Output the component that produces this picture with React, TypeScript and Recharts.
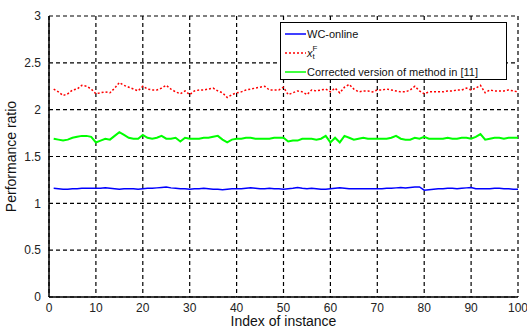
import { LineChart, Line, XAxis, YAxis, CartesianGrid } from 'recharts';

const instances = Array.from({ length: 100 }, (_, i) => i + 1);

const wcOnline = [
  1.16, 1.155, 1.15, 1.15, 1.155, 1.155, 1.16, 1.16, 1.16, 1.16,
  1.16, 1.165, 1.16, 1.155, 1.15, 1.155, 1.155, 1.155, 1.15, 1.155,
  1.16, 1.16, 1.165, 1.17, 1.175, 1.165, 1.16, 1.155, 1.155, 1.15,
  1.155, 1.155, 1.16, 1.155, 1.15, 1.15, 1.145, 1.15, 1.155, 1.155,
  1.155, 1.16, 1.165, 1.16, 1.155, 1.155, 1.16, 1.155, 1.155, 1.15,
  1.155, 1.16, 1.17, 1.16, 1.155, 1.16, 1.155, 1.15, 1.15, 1.155,
  1.16, 1.165, 1.16, 1.155, 1.155, 1.155, 1.155, 1.155, 1.155, 1.155,
  1.155, 1.16, 1.16, 1.165, 1.17, 1.165, 1.17, 1.175, 1.175, 1.14,
  1.145, 1.15, 1.155, 1.155, 1.16, 1.16, 1.155, 1.16, 1.165, 1.17,
  1.155, 1.155, 1.155, 1.155, 1.16, 1.16, 1.155, 1.155, 1.15, 1.15,
];

const xtF = [
  2.22, 2.19, 2.15, 2.17, 2.21, 2.22, 2.26, 2.25, 2.22, 2.17,
  2.18, 2.19, 2.18, 2.23, 2.29, 2.26, 2.24, 2.22, 2.20, 2.25,
  2.22, 2.21, 2.21, 2.23, 2.26, 2.22, 2.19, 2.17, 2.20, 2.16,
  2.20, 2.21, 2.21, 2.22, 2.23, 2.20, 2.18, 2.13, 2.16, 2.18,
  2.19, 2.21, 2.22, 2.23, 2.24, 2.25, 2.21, 2.21, 2.21, 2.24,
  2.16, 2.18, 2.20, 2.19, 2.16, 2.21, 2.20, 2.21, 2.22, 2.19,
  2.23, 2.18, 2.24, 2.27, 2.22, 2.19, 2.20, 2.20, 2.19, 2.21,
  2.21, 2.22, 2.21, 2.20, 2.19, 2.19, 2.21, 2.25, 2.20, 2.17,
  2.19, 2.19, 2.19, 2.19, 2.20, 2.20, 2.21, 2.21, 2.23, 2.21,
  2.23, 2.26, 2.18, 2.21, 2.20, 2.20, 2.20, 2.21, 2.20, 2.19,
];

const corrected = [
  1.69, 1.68, 1.67, 1.68, 1.70, 1.71, 1.72, 1.72, 1.71, 1.65,
  1.67, 1.69, 1.68, 1.72, 1.76, 1.73, 1.70, 1.69, 1.69, 1.73,
  1.70, 1.69, 1.70, 1.72, 1.69, 1.69, 1.70, 1.66, 1.70, 1.69,
  1.69, 1.69, 1.70, 1.70, 1.71, 1.72, 1.68, 1.65, 1.68, 1.69,
  1.69, 1.70, 1.70, 1.69, 1.69, 1.69, 1.69, 1.70, 1.70, 1.70,
  1.66, 1.67, 1.67, 1.69, 1.69, 1.69, 1.68, 1.69, 1.72, 1.65,
  1.70, 1.65, 1.72, 1.70, 1.68, 1.69, 1.70, 1.69, 1.69, 1.69,
  1.69, 1.69, 1.70, 1.72, 1.69, 1.68, 1.68, 1.70, 1.69, 1.71,
  1.69, 1.69, 1.69, 1.69, 1.70, 1.69, 1.69, 1.70, 1.70, 1.69,
  1.71, 1.74, 1.68, 1.69, 1.70, 1.70, 1.69, 1.70, 1.70, 1.70,
];

const xTicks = [0, 10, 20, 30, 40, 50, 60, 70, 80, 90, 100];
const yTicks = [0, 0.5, 1, 1.5, 2, 2.5, 3];

const data = instances.map((x, i) => ({
  x,
  wc: wcOnline[i],
  xf: xtF[i],
  corr: corrected[i],
}));

const FONT = '"Liberation Sans", Arial, sans-serif';

// legend drawn as an overlay box so it doesn't eat plot height
function LegendBox() {
  const row = { display: 'flex', alignItems: 'center', height: 19 } as const;
  return (
    <div
      style={{
        position: 'absolute',
        left: 280,
        top: 22,
        width: 227,
        height: 58,
        background: '#fff',
        border: '1px solid #000',
        fontFamily: FONT,
        fontSize: 11,
        color: '#111',
        paddingTop: 1,
        boxSizing: 'border-box',
      }}
    >
      <div style={row}>
        <svg width={26} height={10}><line x1={4} y1={5} x2={25} y2={5} stroke="#0000ff" strokeWidth={1.5} /></svg>
        <span>WC-online</span>
      </div>
      <div style={row}>
        <svg width={26} height={10}><line x1={4} y1={5} x2={25} y2={5} stroke="#ff0000" strokeWidth={1.5} strokeDasharray="2 2" /></svg>
        <span style={{ fontStyle: 'italic' }}>x</span>
        <span style={{ display: 'inline-flex', flexDirection: 'column', fontSize: 8, lineHeight: '8px' }}>
          <span>F</span>
          <span>t</span>
        </span>
      </div>
      <div style={row}>
        <svg width={26} height={10}><line x1={4} y1={5} x2={25} y2={5} stroke="#00ff00" strokeWidth={1.5} /></svg>
        <span>Corrected version of method in [11]</span>
      </div>
    </div>
  );
}

export default function App() {
  return (
    <div style={{ position: 'absolute', left: 0, top: 0, width: 527, height: 329, background: '#fff' }}>
      <LineChart
        width={527}
        height={329}
        data={data}
        margin={{ top: 16, right: 9, left: 9, bottom: 2 }}
      >
        <CartesianGrid stroke="#000" strokeDasharray="4 3" strokeWidth={1.2} />
        <XAxis
          dataKey="x"
          type="number"
          domain={[0, 100]}
          ticks={xTicks}
          interval={0}
          height={30}
          axisLine={{ stroke: '#000', strokeWidth: 1.5 }}
          tickLine={false}
          tick={{ fontSize: 12, fill: '#222', fontFamily: FONT }}
          tickMargin={0}
          label={{ value: 'Index of instance', position: 'insideBottom', offset: 1, fontSize: 14, fill: '#111', fontFamily: FONT }}
        />
        <YAxis
          type="number"
          domain={[0, 3]}
          ticks={yTicks}
          interval={0}
          width={40}
          axisLine={{ stroke: '#000', strokeWidth: 1.5 }}
          tickLine={false}
          tick={{ fontSize: 12, fill: '#222', fontFamily: FONT }}
          tickMargin={2}
          label={{ value: 'Performance ratio', angle: -90, position: 'insideLeft', offset: 2, fontSize: 14, fill: '#111', fontFamily: FONT, style: { textAnchor: 'middle' } }}
        />
        <Line dataKey="wc" stroke="#0000ff" strokeWidth={1.5} dot={false} isAnimationActive={false} />
        <Line dataKey="xf" stroke="#ff0000" strokeWidth={1.5} strokeDasharray="2 2" dot={false} isAnimationActive={false} />
        <Line dataKey="corr" stroke="#00ff00" strokeWidth={2} dot={false} isAnimationActive={false} />
      </LineChart>
      <LegendBox />
    </div>
  );
}
